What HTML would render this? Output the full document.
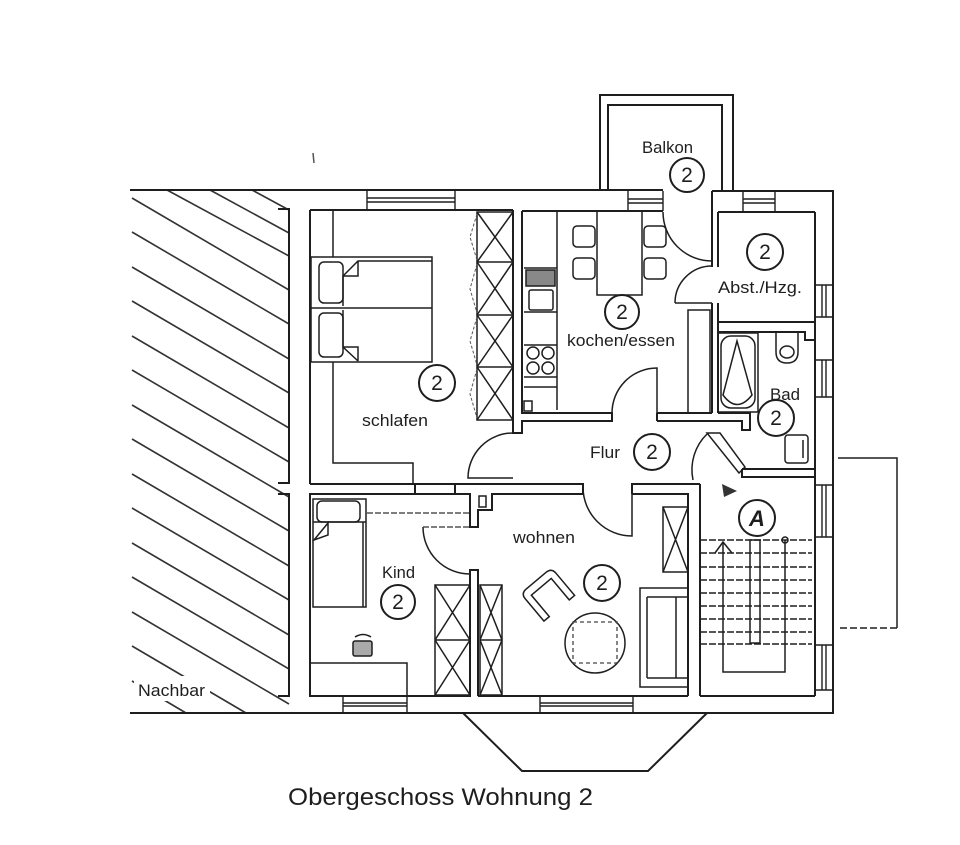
<!DOCTYPE html>
<html><head><meta charset="utf-8">
<style>
html,body{margin:0;padding:0;background:#fff;}
svg{display:block;}
text{font-family:"Liberation Sans",Arial,sans-serif;fill:#1e1e1e;}
</style></head><body>
<svg width="960" height="845" viewBox="0 0 960 845" xmlns="http://www.w3.org/2000/svg">
<rect width="960" height="845" fill="#fff"/>

<!-- hatch Nachbar -->
<g stroke="#333" stroke-width="1.6" fill="none">
<path d="M167,190 L289,256 M210,190 L289,233 M252,190 L289,210"/>
<path d="M132,198 L289,290 M132,232 L289,324 M132,267 L289,359 M132,301 L289,393 M132,336 L289,428 M132,370 L289,462 M132,405 L289,497 M132,439 L289,531 M132,474 L289,566 M132,508 L289,600 M132,543 L289,635 M132,577 L289,669 M132,612 L289,704 M132,646 L246,713 M132,681 L186,713"/>
</g>
<rect x="134" y="676" width="76" height="25" fill="#fff"/>
<text x="138" y="696" font-size="17" textLength="67" lengthAdjust="spacingAndGlyphs">Nachbar</text>

<!-- tick mark -->
<path d="M313,153 L314,163" stroke="#555" stroke-width="1.5"/>

<g fill="none" stroke="#1e1e1e" stroke-width="2">
<!-- outer -->
<path d="M130,190 H663"/>
<path d="M712,191 H833 V713 H130"/>
<path d="M600,190 V95 H733 V191"/>
<path d="M608,191 V105 H722 V191"/>
<path d="M463,713 L522,771 H648 L707,713"/>
<!-- party wall -->
<path d="M278,209 H289 V483 H278"/>
<path d="M278,494 H289 V696 H278"/>
<!-- inner top -->
<path d="M310,210 H513"/>
<path d="M522,211 H663"/>
<path d="M718,212 H815"/>
<!-- schlafen / kitchen walls -->
<path d="M310,210 V484"/>
<path d="M513,210 V433 H522 V421 H612 V413 H522 V211"/>
<path d="M310,484 H583 V494 H492 V510 H478 V527 H470 V494 H310 V696 H470 V570 H478 V696"/>
<path d="M470,570 H478"/>
<path d="M415,484 V494 M455,484 V494"/>
<!-- wohnen top right -->
<path d="M632,494 V484 H700 M632,494 H688 V696 M700,484 V696"/>
<!-- bottom inner -->
<path d="M478,696 H688 M700,696 H815"/>
<!-- right inner -->
<path d="M815,212 V696"/>
<!-- abst / bad -->
<path d="M718,212 V267 M718,303 V413 M712,191 V267 M712,303 V413"/>
<path d="M718,322 H815 M718,332 H805 V340 H815"/>
<path d="M657,413 H712 M657,421 H742 V430 H750 V413 H718 M657,413 V421"/>
<path d="M742,469 H815 M742,469 V477 H815"/>
</g>

<!-- windows -->
<g fill="none" stroke="#1e1e1e" stroke-width="1.4">
<path d="M367,190 V210 M455,190 V210 M367,198 H455 M367,202 H455"/>
<path d="M628,191 V211 M663,191 V211 M628,199 H663 M628,203 H663"/>
<path d="M743,191 V212 M775,191 V212 M743,199 H775 M743,203 H775"/>
<path d="M815,285 H833 M815,317 H833 M822,285 V317 M826,285 V317"/>
<path d="M815,360 H833 M815,397 H833 M822,360 V397 M826,360 V397"/>
<path d="M815,485 H833 M815,537 H833 M822,485 V537 M826,485 V537"/>
<path d="M815,645 H833 M815,690 H833 M822,645 V690 M826,645 V690"/>
<path d="M343,696 V713 M407,696 V713 M343,703 H407 M343,706 H407"/>
<path d="M540,696 V713 M633,696 V713 M540,703 H633 M540,706 H633"/>
</g>

<!-- doors -->
<g fill="none" stroke="#1e1e1e" stroke-width="1.5">
<path d="M663,212 A49,49 0 0 0 712,261"/>
<path d="M675,303 A37,37 0 0 1 712,266 M675,303 H712"/>
<path d="M612,413 A45,45 0 0 1 657,368 V413"/>
<path d="M513,433 A45,45 0 0 0 468,478 H513"/>
<path d="M583,487 A49,49 0 0 0 632,536 V487"/>
<path d="M423,527 A47,47 0 0 0 470,574"/>
<path d="M707,434 A50,50 0 0 0 693,480"/>
<path d="M707,433 H720 L745,467 L739,473 Z"/>
</g>
<path d="M367,513 H470 M423,527 H470" stroke="#333" stroke-width="1.3" stroke-dasharray="6,2" fill="none"/>

<!-- schlafen furniture -->
<g fill="none" stroke="#1e1e1e" stroke-width="1.5">
<path d="M333,210 V257 M333,362 V463 H413 V484"/>
<rect x="311" y="257" width="121" height="105"/>
<path d="M311,308 H432"/>
<rect x="319" y="262" width="24" height="41" rx="5"/>
<rect x="319" y="313" width="24" height="44" rx="5"/>
<path d="M343,306 V276 L358,261 H432 M343,276 H358 V261"/>
<path d="M343,310 V347 L358,361 M343,347 H358 V361"/>
<rect x="477" y="212" width="36" height="208"/>
<path d="M477,262 H513 M477,315 H513 M477,367 H513"/>
<path d="M477,212 L513,262 M513,212 L477,262 M477,262 L513,315 M513,262 L477,315 M477,315 L513,367 M513,315 L477,367 M477,367 L513,420 M513,367 L477,420"/>
</g>
<path d="M477,214 L470,237 L477,260 M477,264 L470,289 L477,313 M477,317 L470,341 L477,365 M477,369 L470,394 L477,418" fill="none" stroke="#555" stroke-width="1" stroke-dasharray="3,2"/>

<!-- kitchen -->
<g fill="none" stroke="#1e1e1e" stroke-width="1.5">
<path d="M557,211 V410"/>
<path d="M524,268 H557 M524,312 H557 M524,345 H557 M524,377 H557 M524,387 H557"/>
<rect x="526" y="270" width="29" height="16" fill="#888"/>
<rect x="529" y="290" width="24" height="20" rx="2"/>
<circle cx="533" cy="353" r="6"/><circle cx="548" cy="353" r="6"/>
<circle cx="533" cy="368" r="6"/><circle cx="548" cy="368" r="6"/>
<rect x="524" y="401" width="8" height="10"/>
<rect x="597" y="211" width="45" height="84"/>
<rect x="573" y="226" width="22" height="21" rx="4"/>
<rect x="573" y="258" width="22" height="21" rx="4"/>
<rect x="644" y="226" width="22" height="21" rx="4"/>
<rect x="644" y="258" width="22" height="21" rx="4"/>
<rect x="688" y="310" width="22" height="103"/>
</g>

<!-- bad -->
<g fill="none" stroke="#1e1e1e" stroke-width="1.5">
<rect x="718" y="333" width="40" height="79"/>
<rect x="721" y="336" width="34" height="72" rx="10"/>
<path d="M737,341 L723,395 Q737,414 752,395 Z"/>
<path d="M776,332 V352 Q776,363 787,363 Q798,363 798,352 V332"/>
<ellipse cx="787" cy="352" rx="7" ry="6"/>
<rect x="785" y="435" width="23" height="28" rx="3"/>
<path d="M803,440 V458"/>
</g>

<!-- wohnen -->
<g fill="none" stroke="#1e1e1e" stroke-width="1.5">
<rect x="663" y="507" width="25" height="65"/>
<path d="M663,507 L688,572 M688,507 L663,572"/>
<rect x="640" y="588" width="48" height="99"/>
<path d="M647,597 H688 M647,678 H688 M647,597 V678 M676,597 V678"/>
<circle cx="595" cy="643" r="30"/>
<g transform="translate(549,596) rotate(-40)">
<path d="M-20,16 V-13 Q-20,-20 -13,-20 H13 Q20,-20 20,-13 V16 H13 V-12 H-13 V16 Z"/>
</g>
<rect x="435" y="585" width="35" height="110"/>
<path d="M435,640 H470 M435,585 L470,640 M470,585 L435,640 M435,640 L470,695 M470,640 L435,695"/>
<rect x="480" y="585" width="22" height="110"/>
<path d="M480,640 H502 M480,585 L502,640 M502,585 L480,640 M480,640 L502,695 M502,640 L480,695"/>
</g>
<rect x="573" y="622" width="44" height="41" fill="none" stroke="#444" stroke-width="1.3" stroke-dasharray="4,3"/>

<!-- kind -->
<g fill="none" stroke="#1e1e1e" stroke-width="1.5">
<rect x="313" y="499" width="53" height="108"/>
<rect x="317" y="501" width="43" height="21" rx="5"/>
<path d="M313,522 H366 M363,522 V607"/>
<path d="M314,540 L328,523 V535 Z"/>
<path d="M310,663 H407 V696"/>
<path d="M355,637 Q363,632 371,637"/>
<rect x="353" y="641" width="19" height="15" rx="2" fill="#aaa"/>
<rect x="479" y="496" width="7" height="11"/>
</g>

<!-- stairs -->
<g fill="none" stroke="#1e1e1e" stroke-width="1.5">
<path d="M700,540 H812 M700,553 H812 M700,567 H812 M700,580 H812 M700,593 H812 M700,606 H812 M700,619 H812 M700,632 H812 M700,644 H812" stroke-dasharray="7,2"/>
<path d="M723,543 V672 H785 V540"/>
<rect x="750" y="540" width="10" height="103"/>
<path d="M715,553 L723,542 L732,553"/>
<circle cx="785" cy="540" r="3"/>
<path d="M838,458 H897 V628"/>
<path d="M897,628 H838" stroke-dasharray="7,3"/>
</g>
<polygon points="722,484 737,491 724,497" fill="#333"/>

<!-- circles -->
<g fill="none" stroke="#1e1e1e" stroke-width="2">
<circle cx="687" cy="175" r="17"/>
<circle cx="622" cy="312" r="17"/>
<circle cx="765" cy="252" r="18"/>
<circle cx="437" cy="383" r="18"/>
<circle cx="776" cy="418" r="18"/>
<circle cx="652" cy="452" r="18"/>
<circle cx="602" cy="583" r="18"/>
<circle cx="398" cy="602" r="17"/>
<circle cx="757" cy="518" r="18"/>
</g>
<g font-size="21" text-anchor="middle">
<text x="687" y="182">2</text>
<text x="622" y="319">2</text>
<text x="765" y="259">2</text>
<text x="437" y="390">2</text>
<text x="776" y="425">2</text>
<text x="652" y="459">2</text>
<text x="602" y="590">2</text>
<text x="398" y="609">2</text>
<text x="757" y="526" font-style="italic" font-weight="bold" font-size="22">A</text>
</g>

<!-- labels -->
<g font-size="17">
<text x="642" y="153" textLength="51" lengthAdjust="spacingAndGlyphs">Balkon</text>
<text x="567" y="346" textLength="108" lengthAdjust="spacingAndGlyphs">kochen/essen</text>
<text x="718" y="293" textLength="84" lengthAdjust="spacingAndGlyphs">Abst./Hzg.</text>
<text x="362" y="426" textLength="66" lengthAdjust="spacingAndGlyphs">schlafen</text>
<text x="770" y="400" textLength="30" lengthAdjust="spacingAndGlyphs">Bad</text>
<text x="590" y="458" textLength="30" lengthAdjust="spacingAndGlyphs">Flur</text>
<text x="513" y="543" textLength="62" lengthAdjust="spacingAndGlyphs">wohnen</text>
<text x="382" y="578" textLength="33" lengthAdjust="spacingAndGlyphs">Kind</text>
</g>
<text x="288" y="805" font-size="24" textLength="305" lengthAdjust="spacingAndGlyphs">Obergeschoss Wohnung 2</text>
</svg>
</body></html>
